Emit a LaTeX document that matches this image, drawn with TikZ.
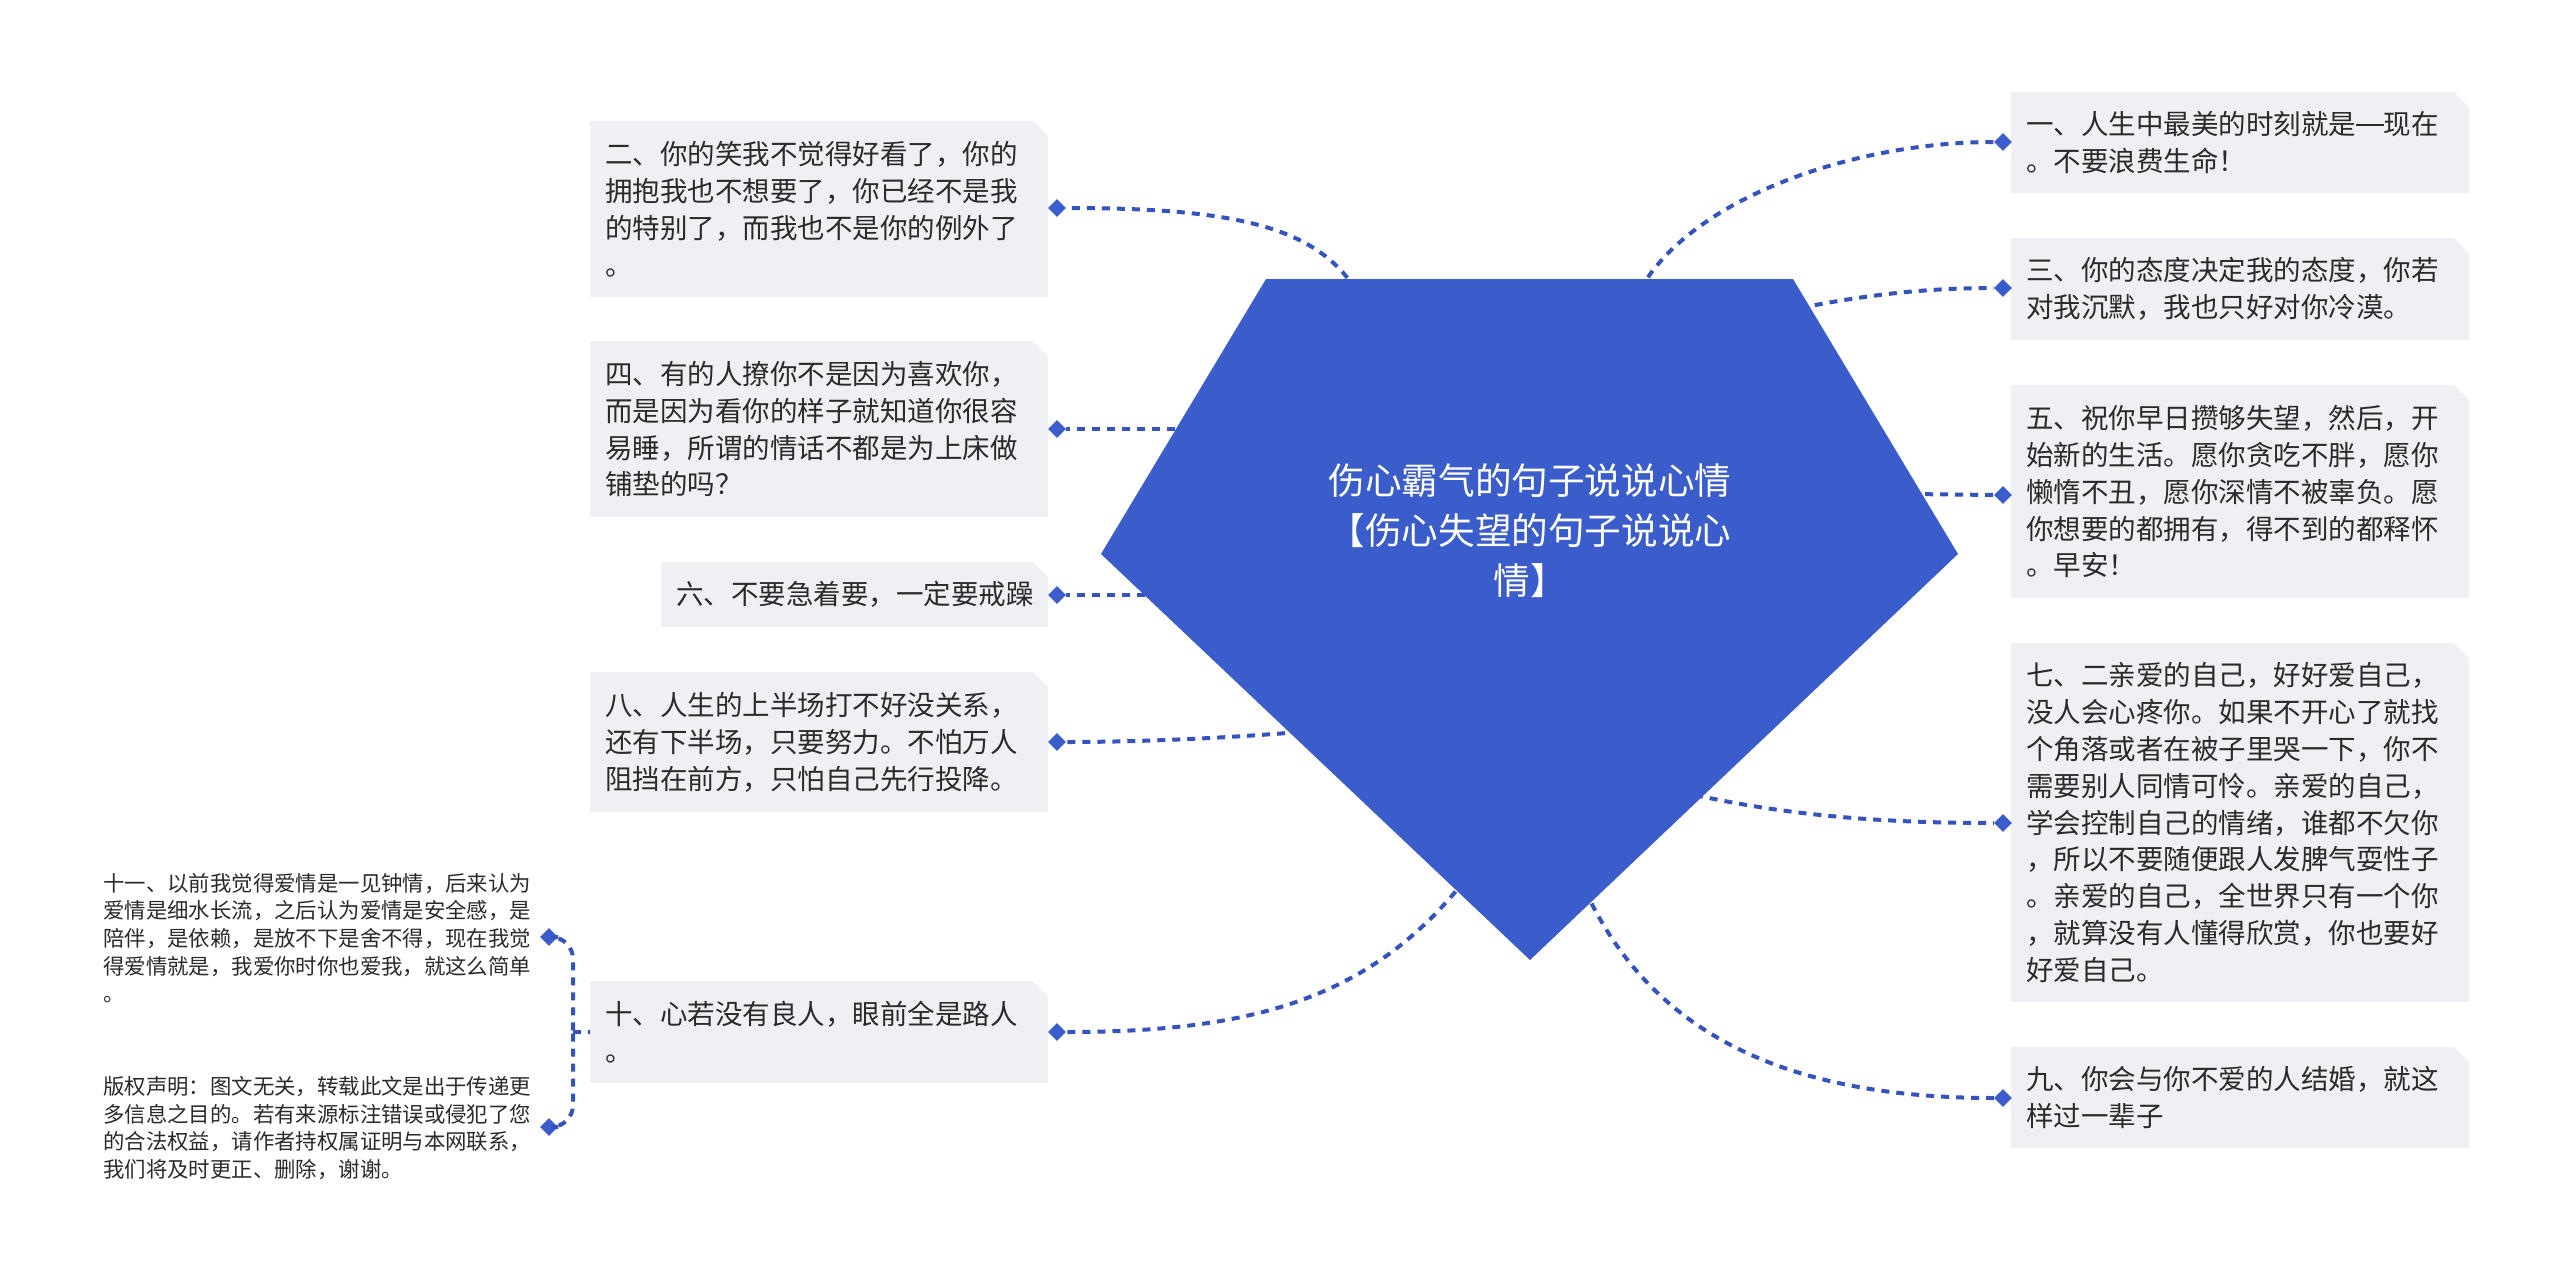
\documentclass[tikz,border=0pt]{standalone}
\usepackage{fontspec}
\setmainfont{Noto Sans CJK SC}
\usetikzlibrary{shapes.geometric}
\definecolor{mainblue}{HTML}{3B5DCB}
\definecolor{lineblue}{HTML}{3553BF}
\definecolor{boxgray}{HTML}{EEF0F4}
\definecolor{txt}{HTML}{2A2A2A}
\newcommand{\longdash}{\rule[0.33em]{1em}{0.055em}}
\begin{document}
\begin{tikzpicture}[x=1pt,y=-1pt,
  leaf/.style={anchor=north west, fill=boxgray, text=txt, align=left,
    inner xsep=15pt, inner ysep=0pt, text width=428pt,
    font=\fontsize{27.5}{36.8}\selectfont,
    path picture={\fill[white] ([xshift=-15pt]path picture bounding box.north east)
      -- (path picture bounding box.north east)
      -- ([yshift=-15pt]path picture bounding box.north east) -- cycle;}},
  small/.style={anchor=west, text=txt, align=left, inner sep=0pt, text width=432pt,
    font=\fontsize{21.4}{27.7}\selectfont},
  dia/.style={diamond, fill=mainblue, inner sep=0pt, minimum width=18pt, minimum height=18pt},
  conn/.style={draw=lineblue, line width=4pt, dash pattern=on 8pt off 7pt}]
\useasboundingbox (0,0) rectangle (2560,1285);

% leaf boxes, left
\node[leaf, minimum height=176pt] (n2) at (590,121) {二、你的笑我不觉得好看了，你的\\拥抱我也不想要了，你已经不是我\\的特别了，而我也不是你的例外了\\。};
\node[leaf, minimum height=176pt] (n4) at (590,341) {四、有的人撩你不是因为喜欢你，\\而是因为看你的样子就知道你很容\\易睡，所谓的情话不都是为上床做\\铺垫的吗？};
\node[leaf, minimum height=65pt, text width=357pt] (n6) at (661,562) {六、不要急着要，一定要戒躁};
\node[leaf, minimum height=140pt] (n8) at (590,672) {八、人生的上半场打不好没关系，\\还有下半场，只要努力。不怕万人\\阻挡在前方，只怕自己先行投降。};
\node[leaf, minimum height=102pt] (n10) at (590,981) {十、心若没有良人，眼前全是路人\\。};

% leaf boxes, right
\node[leaf, minimum height=101pt] (n1) at (2011,92) {一、人生中最美的时刻就是\longdash 现在\\。不要浪费生命！};
\node[leaf, minimum height=102pt] (n3) at (2011,238) {三、你的态度决定我的态度，你若\\对我沉默，我也只好对你冷漠。};
\node[leaf, minimum height=213pt] (n5) at (2011,385) {五、祝你早日攒够失望，然后，开\\始新的生活。愿你贪吃不胖，愿你\\懒惰不丑，愿你深情不被辜负。愿\\你想要的都拥有，得不到的都释怀\\。早安！};
\node[leaf, minimum height=359pt] (n7) at (2011,643) {七、二亲爱的自己，好好爱自己，\\没人会心疼你。如果不开心了就找\\个角落或者在被子里哭一下，你不\\需要别人同情可怜。亲爱的自己，\\学会控制自己的情绪，谁都不欠你\\，所以不要随便跟人发脾气耍性子\\。亲爱的自己，全世界只有一个你\\，就算没有人懂得欣赏，你也要好\\好爱自己。};
\node[leaf, minimum height=101pt] (n9) at (2011,1047) {九、你会与你不爱的人结婚，就这\\样过一辈子};

% sub-leaves of 十
\node[small] (n11) at (103,938) {十一、以前我觉得爱情是一见钟情，后来认为\\爱情是细水长流，之后认为爱情是安全感，是\\陪伴，是依赖，是放不下是舍不得，现在我觉\\得爱情就是，我爱你时你也爱我，就这么简单\\。};
\node[small] (ncp) at (103,1128) {版权声明：图文无关，转载此文是出于传递更\\多信息之目的。若有来源标注错误或侵犯了您\\的合法权益，请作者持权属证明与本网联系，\\我们将及时更正、删除，谢谢。};

% diamonds
\node[dia] (d2) at (1057,208) {};
\node[dia] (d4) at (1057,429) {};
\node[dia] (d6) at (1057,595) {};
\node[dia] (d8) at (1057,742) {};
\node[dia] (d10) at (1057,1032) {};
\node[dia] (d1) at (2003,142) {};
\node[dia] (d3) at (2003,288) {};
\node[dia] (d5) at (2003,495) {};
\node[dia] (d7) at (2003,823) {};
\node[dia] (d9) at (2003,1098) {};
\node[dia] (d11) at (549,937) {};
\node[dia] (dcp) at (549,1127) {};

% start points on the pentagon
\coordinate (p1) at (1640,290);
\coordinate (p2) at (1356,290);
\coordinate (p3) at (1800,308);
\coordinate (p4) at (1190,429);
\coordinate (p5) at (1910,494);
\coordinate (p6) at (1160,595);
\coordinate (p7) at (1695,795);
\coordinate (p8) at (1300,732);
\coordinate (p9) at (1585,890);
\coordinate (p10) at (1465,880);
\coordinate (br) at (573,1032);

% connectors
\draw[conn] (p1) .. controls (1690,200) and (1850,142) .. (d1.west);
\draw[conn] (p2) .. controls (1315,225) and (1230,208) .. (d2.east);
\draw[conn] (p3) .. controls (1880,292) and (1940,288) .. (d3.west);
\draw[conn] (p4) -- (d4.east);
\draw[conn] (p5) -- (d5.west);
\draw[conn] (p6) -- (d6.east);
\draw[conn] (p7) .. controls (1800,818) and (1900,823) .. (d7.west);
\draw[conn] (p8) .. controls (1200,740) and (1120,742) .. (d8.east);
\draw[conn] (p9) .. controls (1650,1030) and (1780,1098) .. (d9.west);
\draw[conn] (p10) .. controls (1370,1000) and (1250,1032) .. (d10.east);
\draw[conn, rounded corners=22pt] (d11.east) -| (br);
\draw[conn, rounded corners=22pt] (dcp.east) -| (br);
\draw[conn] (br) -- (n10.west);

% central pentagon
\fill[mainblue] (1266,279) -- (1793,279) -- (1958,554) -- (1530,960) -- (1101,554) -- cycle;
\node[text=white, align=center, inner sep=0pt, font=\fontsize{36.6}{50}\selectfont] (root) at (1530,531) {伤心霸气的句子说说心情\\【伤心失望的句子说说心\\情】};
\end{tikzpicture}
\end{document}
